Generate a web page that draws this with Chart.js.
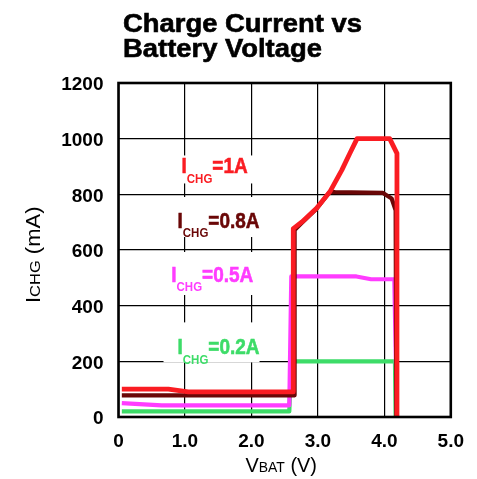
<!DOCTYPE html>
<html><head><meta charset="utf-8">
<script src="https://cdn.jsdelivr.net/npm/chart.js@4.4.1/dist/chart.umd.min.js"></script>
<style>html,body{margin:0;padding:0;background:#fff;}canvas{display:block;}</style>
</head><body>
<canvas id="c" width="477" height="479"></canvas>
<script>
// ---- data ----
const titleLines = ["Charge Current vs", "Battery Voltage"];
const xTickValues = [0, 1, 2, 3, 4, 5];
const yTickValues = [0, 200, 400, 600, 800, 1000, 1200];
const seriesNames = ["1A", "0.8A", "0.5A", "0.2A"];

const x1A  = [0.05, 0.75, 1.05, 2.63, 2.63, 2.76, 2.98, 3.18, 3.36, 3.48, 3.59, 4.08, 4.19, 4.19];
const y1A  = [100,  100,  90,   90,   677,  701,  750,  809,  887,  947,  1000, 1000, 947,  0];

const x08A = [0.05, 2.65, 2.65, 2.76, 2.98, 3.18, 3.26, 3.98, 4.11, 4.17, 4.18];
const y08A = [78,   78,   672,  698,  748,  809,  808,  805,  785,  743,  0];

const x05A = [0.05, 0.65, 2.57, 2.60, 3.58, 3.80, 4.15, 4.19];
const y05A = [50,   42,   42,   505,  505,  495,  495,  0];

const x02A = [0.05, 2.57, 2.60, 4.16, 4.17];
const y02A = [20,   20,   200,  200,  0];

// ---- build ----
const FONT = '"Liberation Sans", Arial, Helvetica, sans-serif';
const colors = ['#fa1c22', '#6a0707', '#ff3cff', '#3ddc68'];
const xs = [x1A, x08A, x05A, x02A];
const ys = [y1A, y08A, y05A, y02A];

const datasets = seriesNames.map((n, i) => ({
  label: 'ICHG=' + n,
  data: xs[i].map((x, k) => ({x: x, y: ys[i][k]})),
  showLine: true,
  borderColor: colors[i],
  backgroundColor: colors[i],
  borderWidth: i === 0 ? 4.8 : 4.2,
  pointRadius: 0,
  tension: 0,
  fill: false,
  borderJoinStyle: 'round'
}));

// label placement (data coords) and white box offsets (px)
const labelPos = [
  {x: 0.948, y: 875, box: [-18, 10]},
  {x: 0.888, y: 679, box: [-31, 9]},
  {x: 0.794, y: 485, box: [-30, 13]},
  {x: 0.888, y: 225, box: [-32, 8]}
];

function drawSeriesLabel(ctx, px, py, rest, color) {
  ctx.save();
  ctx.translate(px, py);
  ctx.scale(1, 1.15);
  ctx.fillStyle = color;
  ctx.strokeStyle = color;
  ctx.lineWidth = 0.5;
  ctx.textAlign = 'left';
  ctx.textBaseline = 'alphabetic';
  ctx.font = 'bold 19px ' + FONT;
  ctx.fillText('I', 0, 0); ctx.strokeText('I', 0, 0);
  let w = ctx.measureText('I').width;
  ctx.font = 'bold 11.5px ' + FONT;
  ctx.fillText('CHG', w, 8);
  w += ctx.measureText('CHG').width;
  ctx.font = 'bold 19px ' + FONT;
  ctx.fillText(rest, w, 0); ctx.strokeText(rest, w, 0);
  ctx.restore();
}

const decor = {
  id: 'decor',
  beforeDatasetsDraw(chart) {
    const ctx = chart.ctx, xs = chart.scales.x, ysc = chart.scales.y;
    labelPos.forEach((p, i) => {
      const px = xs.getPixelForValue(p.x), py = ysc.getPixelForValue(p.y);
      ctx.save();
      ctx.fillStyle = '#fff';
      ctx.fillRect(px - 14, py + p.box[0], 96, p.box[1] - p.box[0]);
      ctx.restore();
      drawSeriesLabel(ctx, px, py, '=' + seriesNames[i], colors[i]);
    });
  },
  afterDatasetsDraw(chart) {
    const ctx = chart.ctx, a = chart.chartArea;
    ctx.save();
    ctx.strokeStyle = '#000';
    ctx.lineWidth = 2.6;
    ctx.strokeRect(a.left, a.top, a.right - a.left, a.bottom - a.top);
    ctx.restore();
  },
  afterDraw(chart) {
    const ctx = chart.ctx;
    ctx.save();
    // Title
    ctx.fillStyle = '#000';
    ctx.strokeStyle = '#000';
    ctx.lineWidth = 0.6;
    ctx.textAlign = 'left';
    ctx.textBaseline = 'alphabetic';
    ctx.font = 'bold 25px ' + FONT;
    const sx = 239 / ctx.measureText(titleLines[0]).width;
    ctx.save(); ctx.translate(123, 31.5); ctx.scale(sx, 1); ctx.fillText(titleLines[0], 0, 0); ctx.strokeText(titleLines[0], 0, 0); ctx.restore();
    ctx.save(); ctx.translate(123, 57); ctx.scale(sx, 1); ctx.fillText(titleLines[1], 0, 0); ctx.strokeText(titleLines[1], 0, 0); ctx.restore();

    // X axis title: VBAT (V)
    const parts = (spec) => {
      let w = 0;
      spec.forEach(s => { ctx.font = s[1] + 'px ' + FONT; w += ctx.measureText(s[0]).width; });
      return w;
    };
    const xt = [['V', 20], ['BAT', 14], [' (V)', 20]];
    let wx = parts(xt);
    ctx.save();
    ctx.translate(245.5, 472);
    ctx.scale(71.5 / wx, 1);
    let cx = 0;
    xt.forEach(s => { ctx.font = s[1] + 'px ' + FONT; ctx.fillText(s[0], cx, 0); cx += ctx.measureText(s[0]).width; });
    ctx.restore();

    // Y axis title: ICHG (mA)
    const yt = [['I', 20], ['CHG', 15], [' (mA)', 20]];
    let wy = parts(yt);
    ctx.save();
    ctx.translate(40, 303);
    ctx.rotate(-Math.PI / 2);
    ctx.scale(96.5 / wy, 1);
    cx = 0;
    yt.forEach(s => { ctx.font = s[1] + 'px ' + FONT; ctx.fillText(s[0], cx, 0); cx += ctx.measureText(s[0]).width; });
    ctx.restore();
    ctx.restore();
  }
};

new Chart(document.getElementById('c'), {
  type: 'scatter',
  data: {datasets},
  plugins: [decor],
  options: {
    responsive: false,
    animation: false,
    devicePixelRatio: 1,
    layout: {padding: {top: 83, right: 23, bottom: 0, left: 0}},
    plugins: {legend: {display: false}, tooltip: {enabled: false}, title: {display: false}},
    scales: {
      x: {
        type: 'linear', min: 0, max: 5,
        afterBuildTicks: s => { s.ticks = xTickValues.map(v => ({value: v})); },
        afterFit: s => { s.height = 62; },
        grid: {color: '#000', lineWidth: 1.2, drawTicks: false},
        border: {display: false},
        ticks: {
          padding: 13,
          color: '#000',
          font: {family: FONT, size: 19, weight: 'bold'},
          callback: v => v === 0 ? '0' : v.toFixed(1)
        }
      },
      y: {
        type: 'linear', min: 0, max: 1200,
        afterBuildTicks: s => { s.ticks = yTickValues.map(v => ({value: v})); },
        afterFit: s => { s.width = 118.5; },
        grid: {color: '#000', lineWidth: 1.2, drawTicks: false},
        border: {display: false},
        ticks: {
          padding: 15,
          labelOffset: 2,
          color: '#000',
          font: {family: FONT, size: 19, weight: 'bold'},
          callback: v => String(v)
        }
      }
    }
  }
});
</script>
</body></html>
